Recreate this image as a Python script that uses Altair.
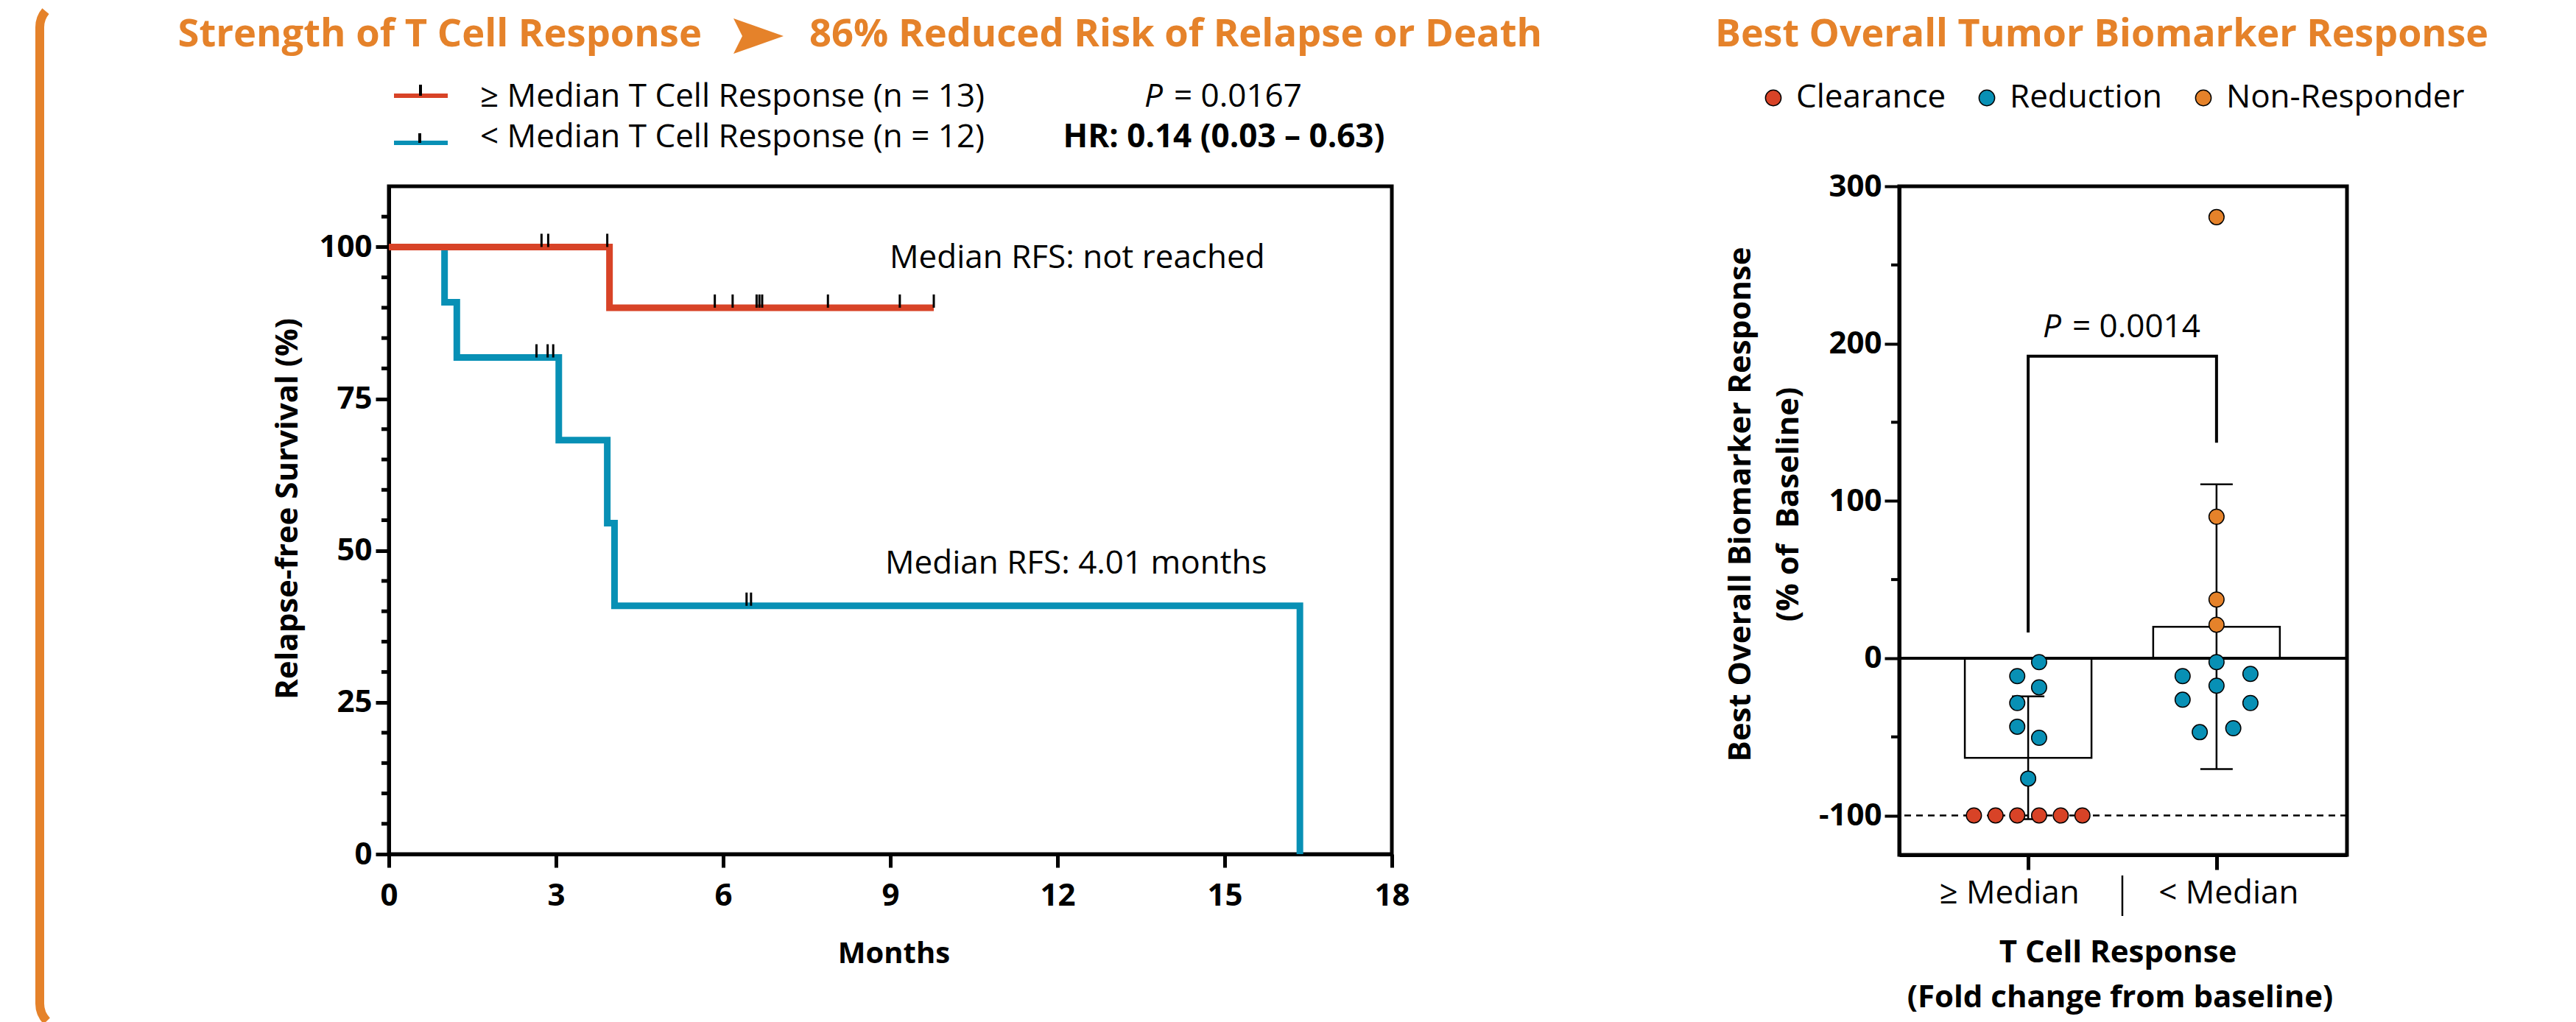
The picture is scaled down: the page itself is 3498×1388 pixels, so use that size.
import altair as alt
import pandas as pd

FONT = "Open Sans"
RED = "#D84327"
BLUE = "#0890B5"
ORANGE = "#E5822A"

# ---------------- data: Kaplan-Meier (left) ----------------
red_t = [0, 3.96, 9.78]
red_s = [100, 90, 90]
blue_t = [0, 1.00, 1.22, 3.05, 3.92, 4.05, 16.35]
blue_s = [100, 90.9, 81.8, 68.2, 54.5, 40.9, 0]
red_cens_t = [2.74, 2.86, 3.92, 5.85, 6.17, 6.60, 6.65, 6.70, 7.88, 9.17, 9.78]
red_cens_s = [100, 100, 100, 90, 90, 90, 90, 90, 90, 90, 90]
blue_cens_t = [2.65, 2.85, 2.95, 6.42, 6.50]
blue_cens_s = [81.8, 81.8, 81.8, 40.9, 40.9]
x_ticks_left = [0, 3, 6, 9, 12, 15, 18]
y_ticks_left = [0, 25, 50, 75, 100]
y_minor_left = [5, 10, 15, 20, 30, 35, 40, 45, 55, 60, 65, 70, 80, 85, 90, 95, 105]

# ---------------- data: biomarker response (right) ----------------
groups = ["≥ Median", "< Median"]
bar_mean = [-63.3, 20.0]
bar_sd = [39.0, 90.5]
cats = ["Clearance", "Reduction", "Non-Responder"]
cat_colors = [RED, BLUE, ORANGE]
pt_group = [0] * 13 + [1] * 12
pt_offset = [0.058, -0.058, 0.058, -0.058, -0.058, 0.058, 0.0,
             -0.288, -0.173, -0.058, 0.058, 0.173, 0.288,
             0.0, 0.0, 0.0, 0.0,
             0.0, -0.18, 0.18, 0.0, -0.18, 0.18, -0.089, 0.089]
pt_value = [-2.5, -11.4, -18.5, -28.5, -43.5, -50.6, -76.5,
            -100, -100, -100, -100, -100, -100,
            280.4, 90.0, 37.3, 21.3,
            -2.5, -11.4, -10.0, -17.5, -26.4, -28.5, -47.0, -44.5]
pt_cat = ["Reduction"] * 7 + ["Clearance"] * 6 + ["Non-Responder"] * 4 + ["Reduction"] * 8
y_ticks_right = [-100, 0, 100, 200, 300]
y_minor_right = [-50, 50, 150, 250]
bracket_x = [0, 0, 1, 1]
bracket_y = [16.4, 192, 192, 137]


def label(text, x, y, size=44, weight="normal", align="left", color="black",
          style="normal", angle=0):
    return alt.Chart(pd.DataFrame({"label": [text]})).mark_text(
        align=align, baseline="middle", fontSize=size, fontWeight=weight,
        font=FONT, color=color, fontStyle=style, angle=angle
    ).encode(x=alt.value(x), y=alt.value(y), text="label:N")


# ================= LEFT PANEL =================
W1, H1 = 1362, 907
xs1 = alt.Scale(domain=[0, 18], nice=False, zero=False)
ys1 = alt.Scale(domain=[0, 110], nice=False, zero=False)
AX_X1 = alt.Axis(values=x_ticks_left, title=None, tickSize=18, tickWidth=5,
                 labelFontSize=42, labelFont=FONT, labelFontWeight="bold",
                 labelPadding=18, domainWidth=5, grid=False, labelFlush=False,
                 labelOverlap=False)
AX_Y1 = alt.Axis(values=y_ticks_left, title=None, tickSize=18, tickWidth=5,
                 labelFontSize=42, labelFont=FONT, labelFontWeight="bold",
                 labelPadding=5, domainWidth=5, grid=False, labelFlush=False,
                 labelOverlap=False)

km_blue = alt.Chart(pd.DataFrame({"t": blue_t, "s": blue_s})).mark_line(
    interpolate="step-after", color=BLUE, strokeWidth=9, strokeCap="butt"
).encode(x=alt.X("t:Q", scale=xs1, axis=AX_X1), y=alt.Y("s:Q", scale=ys1, axis=AX_Y1))

km_red = alt.Chart(pd.DataFrame({"t": red_t, "s": red_s})).mark_line(
    interpolate="step-after", color=RED, strokeWidth=9, strokeCap="butt"
).encode(x=alt.X("t:Q", scale=xs1, axis=AX_X1), y=alt.Y("s:Q", scale=ys1, axis=AX_Y1))

cens_df = pd.DataFrame({"t": red_cens_t + blue_cens_t, "s": red_cens_s + blue_cens_s})
censors = alt.Chart(cens_df).mark_point(
    shape="M0,0L0,-2", size=324, filled=False, color="black", strokeWidth=3, opacity=1
).encode(x=alt.X("t:Q", scale=xs1, axis=AX_X1), y=alt.Y("s:Q", scale=ys1, axis=AX_Y1))

minor1 = alt.Chart(pd.DataFrame({"s": y_minor_left})).mark_rule(
    color="black", strokeWidth=5
).encode(y=alt.Y("s:Q", scale=ys1, axis=AX_Y1), x=alt.value(-10), x2=alt.value(0))

# legend (manual)
leg_red = alt.Chart(pd.DataFrame({"a": [0]})).mark_rule(color=RED, strokeWidth=6).encode(
    x=alt.value(7), x2=alt.value(80), y=alt.value(-123))
leg_red_tick = alt.Chart(pd.DataFrame({"a": [0]})).mark_rule(color="black", strokeWidth=4).encode(
    x=alt.value(43), y=alt.value(-123), y2=alt.value(-138))
leg_blue = alt.Chart(pd.DataFrame({"a": [0]})).mark_rule(color=BLUE, strokeWidth=6).encode(
    x=alt.value(7), x2=alt.value(80), y=alt.value(-59))
leg_blue_tick = alt.Chart(pd.DataFrame({"a": [0]})).mark_rule(color="black", strokeWidth=4).encode(
    x=alt.value(42), y=alt.value(-59), y2=alt.value(-72))

# orange frame on the far left
frame_rule = alt.Chart(pd.DataFrame({"a": [0]})).mark_rule(color=ORANGE, strokeWidth=12).encode(
    x=alt.value(-474), y=alt.value(-216), y2=alt.value(1110))
frame_top = alt.Chart(pd.DataFrame({"a": [0]})).mark_arc(
    color=ORANGE, radius=40, radius2=28, theta=4.7124, theta2=5.4105
).encode(x=alt.value(-440), y=alt.value(-216))
frame_bot = alt.Chart(pd.DataFrame({"a": [0]})).mark_arc(
    color=ORANGE, radius=40, radius2=28, theta=3.944, theta2=4.7124
).encode(x=alt.value(-440), y=alt.value(1110))
anchor = alt.Chart(pd.DataFrame({"a": [0]})).mark_rule(color="white", strokeWidth=1, opacity=0).encode(
    x=alt.value(-517.5), y=alt.value(-241.5), y2=alt.value(-230))

arrow = alt.Chart(pd.DataFrame({"a": [0]})).mark_point(
    shape="M1,0L-1,-0.706L-0.647,0L-1,0.706Z", size=4624, filled=True,
    color=ORANGE, opacity=1
).encode(x=alt.value(502), y=alt.value(-204))

left = alt.layer(
    anchor, frame_rule, frame_top, frame_bot,
    minor1, km_blue, km_red, censors,
    leg_red, leg_red_tick, leg_blue, leg_blue_tick, arrow,
    label("Strength of T Cell Response", 425, -206, size=52.5, weight="bold", align="right", color=ORANGE),
    label("86% Reduced Risk of Relapse or Death", 571, -206, size=52.5, weight="bold", color=ORANGE),
    label("≥ Median T Cell Response (n = 13)", 124, -121),
    label("< Median T Cell Response (n = 12)", 124, -66),
    label("P", 1026, -121, style="italic"),
    label("= 0.0167", 1066, -121),
    label("HR: 0.14 (0.03 – 0.63)", 1134, -66, weight="bold", align="center"),
    label("Median RFS: not reached", 680, 98),
    label("Median RFS: 4.01 months", 674, 513),
    label("Months", 686, 1043, size=40, weight="bold", align="center"),
    label("Relapse-free Survival (%)", -137, 438, size=42, weight="bold", align="center", angle=270),
).properties(width=W1, height=H1)

# ================= RIGHT PANEL =================
W2, H2 = 608, 908
xs2 = alt.Scale(domain=[-0.665, 1.673], nice=False, zero=False)
ys2 = alt.Scale(domain=[-125, 300], nice=False, zero=False)
AX_X2 = alt.Axis(values=[0, 1], title=None, tickSize=20, tickWidth=5,
                 labelExpr=f"datum.value == 0 ? '{groups[0]}' : '{groups[1]}'",
                 labelFontSize=44, labelFont=FONT, labelPadding=10,
                 labelOffset={"condition": {"test": "datum.value == 0", "value": -26}, "value": 16},
                 labelLimit=0, domainWidth=5, grid=False, labelFlush=False,
                 labelOverlap=False)
AX_Y2 = alt.Axis(values=y_ticks_right, title=None, tickSize=20, tickWidth=4,
                 labelExpr="replace(datum.label, '\u2212', '-')",
                 labelFontSize=42, labelFont=FONT, labelFontWeight="bold",
                 labelPadding=4, domainWidth=5, grid=False, labelFlush=False,
                 labelOverlap=False)

bar_df = pd.DataFrame({"g": [0, 1], "m": bar_mean, "sd": bar_sd})
bars = alt.Chart(bar_df).mark_bar(size=172, fill="white", stroke="black", strokeWidth=2.5).encode(
    x=alt.X("g:Q", scale=xs2, axis=AX_X2),
    y=alt.Y("m:Q", scale=ys2, axis=AX_Y2),
    y2=alt.datum(0),
)
zero_line = alt.Chart(pd.DataFrame({"a": [0]})).mark_rule(color="black", strokeWidth=4).encode(
    y=alt.Y(datum=0, scale=ys2, axis=AX_Y2))
dash_line = alt.Chart(pd.DataFrame({"a": [0]})).mark_rule(
    color="black", strokeWidth=2.5, strokeDash=[9, 7]).encode(
    y=alt.Y(datum=-100, scale=ys2, axis=AX_Y2))
err_base = alt.Chart(bar_df).transform_calculate(lo="datum.m - datum.sd", hi="datum.m + datum.sd")
err_rule = err_base.mark_rule(color="black", strokeWidth=2.5).encode(
    x=alt.X("g:Q", scale=xs2, axis=AX_X2),
    y=alt.Y("lo:Q", scale=ys2, axis=AX_Y2), y2="hi:Q")
err_hi = err_base.mark_tick(orient="horizontal", size=44, thickness=2.5, color="black", opacity=1).encode(
    x=alt.X("g:Q", scale=xs2, axis=AX_X2), y=alt.Y("hi:Q", scale=ys2, axis=AX_Y2))
err_lo = err_base.mark_tick(orient="horizontal", size=44, thickness=2.5, color="black", opacity=1).encode(
    x=alt.X("g:Q", scale=xs2, axis=AX_X2), y=alt.Y("lo:Q", scale=ys2, axis=AX_Y2))
minor2 = alt.Chart(pd.DataFrame({"m": y_minor_right})).mark_rule(color="black", strokeWidth=4).encode(
    y=alt.Y("m:Q", scale=ys2, axis=AX_Y2), x=alt.value(-11), x2=alt.value(0))
bracket = alt.Chart(pd.DataFrame({"g": bracket_x, "m": bracket_y, "o": [0, 1, 2, 3]})).mark_line(
    color="black", strokeWidth=4).encode(
    x=alt.X("g:Q", scale=xs2, axis=AX_X2), y=alt.Y("m:Q", scale=ys2, axis=AX_Y2), order="o:Q")
sep = alt.Chart(pd.DataFrame({"a": [0]})).mark_rule(color="black", strokeWidth=2.5).encode(
    x=alt.X(datum=0.5, scale=xs2, axis=AX_X2), y=alt.value(936), y2=alt.value(991))

pts_df = pd.DataFrame({"g": pt_group, "off": pt_offset, "m": pt_value, "cat": pt_cat})
points = alt.Chart(pts_df).transform_calculate(xpos="datum.g + datum.off").mark_point(
    filled=True, size=420, stroke="black", strokeWidth=1.5, opacity=1
).encode(
    x=alt.X("xpos:Q", scale=xs2, axis=AX_X2),
    y=alt.Y("m:Q", scale=ys2, axis=AX_Y2),
    fill=alt.Fill("cat:N", scale=alt.Scale(domain=cats, range=cat_colors),
                  legend=alt.Legend(orient="none", legendX=1858, legendY=-142,
                                    direction="horizontal", title=None,
                                    labelFontSize=44, labelFont=FONT, labelColor="black",
                                    symbolSize=452, symbolType="circle",
                                    symbolStrokeColor="black", symbolStrokeWidth=1.5,
                                    symbolOpacity=1, labelOffset=9, columnPadding=33,
                                    padding=0, labelLimit=0)),
)

right = alt.layer(
    minor2, bars, zero_line, dash_line, err_rule, err_hi, err_lo, bracket, sep, points,
    label("Best Overall Tumor Biomarker Response", 275, -206, size=52, weight="bold",
          align="center", color=ORANGE),
    label("P", 195, 192, style="italic"),
    label("= 0.0014", 235, 192),
    label("Best Overall Biomarker Response", -215, 432, size=42, weight="bold",
          align="center", angle=270),
    label("(% of\u00a0 Baseline)", -150, 432, size=42, weight="bold", align="center", angle=270),
    label("T Cell Response", 297, 1041, size=42, weight="bold", align="center"),
    label("(Fold change from baseline)", 300, 1102, size=42, weight="bold", align="center"),
).properties(width=W2, height=H2)

chart = alt.hconcat(left, right, spacing=689, bounds="flush").properties(
    padding=0
).configure_view(stroke="black", strokeWidth=5).configure_axis(
    grid=False, labelColor="black", tickColor="black", domainColor="black"
)

chart.save("out.html", embed_options={"renderer": "svg", "actions": False})
